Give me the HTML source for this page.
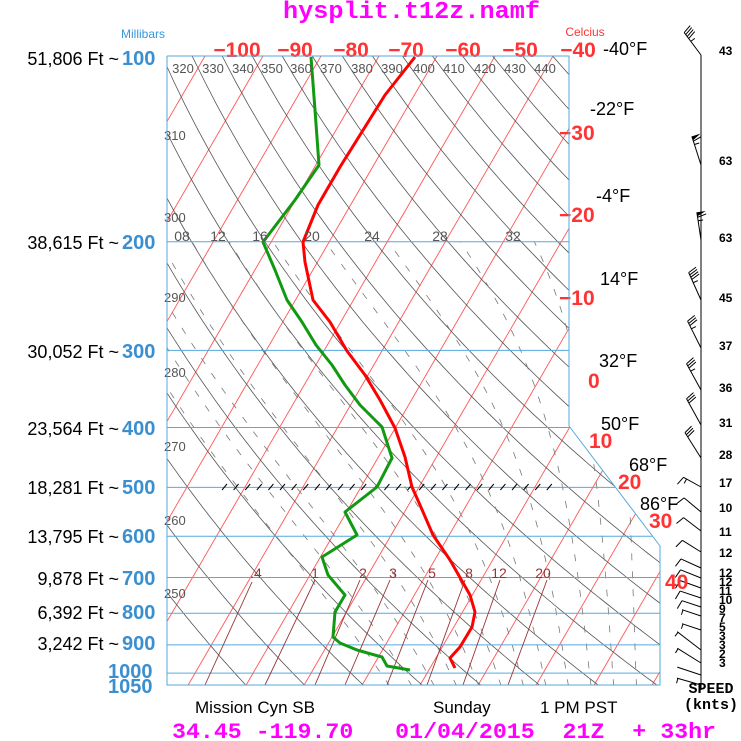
<!DOCTYPE html>
<html><head><meta charset="utf-8">
<style>
html,body{margin:0;padding:0;background:#fff;}
svg{display:block;}
text{font-family:"Liberation Sans",sans-serif;}
.mono{font-family:"Liberation Mono",monospace;}
</style></head>
<body>
<svg id="s" width="741" height="741" viewBox="0 0 741 741" xmlns="http://www.w3.org/2000/svg">
<defs>
<clipPath id="cp"><polygon points="167,56 569,56 569,426 660,546 660,685 167,685"/></clipPath>
</defs>
<g id="grid" clip-path="url(#cp)"></g>
<g id="mr"></g>
<g id="prof"></g>
<g id="barbs"></g>
<g id="txt"></g>
<text x="283" y="18" textLength="257" lengthAdjust="spacingAndGlyphs" class="mono" font-weight="bold" font-size="24" fill="#ff00ff">hysplit.t12z.namf</text>
<text x="143" y="38" text-anchor="middle" font-size="12" fill="#3399dd">Millibars</text>
<text x="585" y="36" text-anchor="middle" font-size="12" fill="#ff3333">Celcius</text>

<g font-size="18" fill="#000" text-anchor="end">
<text x="119" y="65">51,806 Ft ~</text>
<text x="119" y="249">38,615 Ft ~</text>
<text x="119" y="358">30,052 Ft ~</text>
<text x="119" y="435">23,564 Ft ~</text>
<text x="119" y="494">18,281 Ft ~</text>
<text x="119" y="543">13,795 Ft ~</text>
<text x="119" y="585">9,878 Ft ~</text>
<text x="119" y="619">6,392 Ft ~</text>
<text x="119" y="650">3,242 Ft ~</text>
</g>
<g font-size="20" font-weight="bold" fill="#3a8fd0">
<text x="122" y="65">100</text>
<text x="122" y="249">200</text>
<text x="122" y="358">300</text>
<text x="122" y="435">400</text>
<text x="122" y="494">500</text>
<text x="122" y="543">600</text>
<text x="122" y="585">700</text>
<text x="122" y="619">800</text>
<text x="122" y="650">900</text>
<text x="108" y="678">1000</text>
<text x="108" y="693">1050</text>
</g>
<g font-size="21" font-weight="bold" fill="#ff3333" text-anchor="middle">
<text x="237" y="57">−100</text>
<text x="295" y="57">−90</text>
<text x="351" y="57">−80</text>
<text x="406" y="57">−70</text>
<text x="463" y="57">−60</text>
<text x="520" y="57">−50</text>
<text x="578" y="57">−40</text>
</g>
<g font-size="21" font-weight="bold" fill="#ff3333">
<text x="559" y="140">−30</text>
<text x="559" y="222">−20</text>
<text x="559" y="305">−10</text>
<text x="588" y="388">0</text>
<text x="589" y="448">10</text>
<text x="618" y="489">20</text>
<text x="649" y="528">30</text>
<text x="665" y="589">40</text>
</g>
<g font-size="18" fill="#000">
<text x="603" y="55">-40°F</text>
<text x="590" y="115">-22°F</text>
<text x="596" y="202">-4°F</text>
<text x="600" y="285">14°F</text>
<text x="599" y="367">32°F</text>
<text x="601" y="430">50°F</text>
<text x="629" y="471">68°F</text>
<text x="640" y="510">86°F</text>
</g>
<g class="mono" font-size="13" fill="#555">
<text x="183" y="73" text-anchor="middle">320</text>
<text x="213" y="73" text-anchor="middle">330</text>
<text x="243" y="73" text-anchor="middle">340</text>
<text x="272" y="73" text-anchor="middle">350</text>
<text x="301" y="73" text-anchor="middle">360</text>
<text x="331" y="73" text-anchor="middle">370</text>
<text x="362" y="73" text-anchor="middle">380</text>
<text x="392" y="73" text-anchor="middle">390</text>
<text x="424" y="73" text-anchor="middle">400</text>
<text x="454" y="73" text-anchor="middle">410</text>
<text x="485" y="73" text-anchor="middle">420</text>
<text x="515" y="73" text-anchor="middle">430</text>
<text x="545" y="73" text-anchor="middle">440</text>
<text x="164" y="140">310</text>
<text x="164" y="222">300</text>
<text x="164" y="302">290</text>
<text x="164" y="377">280</text>
<text x="164" y="451">270</text>
<text x="164" y="525">260</text>
<text x="164" y="598">250</text>
<text x="182" y="241" text-anchor="middle" font-size="14">08</text>
<text x="218" y="241" text-anchor="middle" font-size="14">12</text>
<text x="260" y="241" text-anchor="middle" font-size="14">16</text>
<text x="312" y="241" text-anchor="middle" font-size="14">20</text>
<text x="372" y="241" text-anchor="middle" font-size="14">24</text>
<text x="440" y="241" text-anchor="middle" font-size="14">28</text>
<text x="513" y="241" text-anchor="middle" font-size="14">32</text>
</g>
<g class="mono" font-size="14" fill="#993333" text-anchor="middle">
<text x="256" y="578">.4</text>
<text x="315" y="578">1</text>
<text x="363" y="578">2</text>
<text x="393" y="578">3</text>
<text x="432" y="578">5</text>
<text x="469" y="578">8</text>
<text x="499" y="578">12</text>
<text x="543" y="578">20</text>
</g>
<g class="mono" font-size="12" font-weight="bold" fill="#000">
<text x="719" y="55">43</text>
<text x="719" y="165">63</text>
<text x="719" y="242">63</text>
<text x="719" y="302">45</text>
<text x="719" y="350">37</text>
<text x="719" y="392">36</text>
<text x="719" y="427">31</text>
<text x="719" y="459">28</text>
<text x="719" y="487">17</text>
<text x="719" y="512">10</text>
<text x="719" y="536">11</text>
<text x="719" y="557">12</text>
<text x="719" y="577">12</text>
<text x="719" y="586">12</text>
<text x="719" y="595">11</text>
<text x="719" y="604">10</text>
<text x="719" y="613">9</text>
<text x="719" y="622">7</text>
<text x="719" y="631">5</text>
<text x="719" y="640">3</text>
<text x="719" y="649">3</text>
<text x="719" y="658">2</text>
<text x="719" y="667">3</text>
</g>
<text x="711" y="693" text-anchor="middle" class="mono" font-weight="bold" font-size="15" fill="#000">SPEED</text>
<text x="711" y="709" text-anchor="middle" class="mono" font-weight="bold" font-size="15" fill="#000">(knts)</text>
<g font-size="17" fill="#000">
<text x="195" y="713">Mission Cyn SB</text>
<text x="433" y="713">Sunday</text>
<text x="540" y="713">1 PM PST</text>
</g>
<text x="172" y="738" textLength="544" lengthAdjust="spacingAndGlyphs" class="mono" font-weight="bold" font-size="22" fill="#ff00ff" xml:space="preserve">34.45 -119.70   01/04/2015  21Z  + 33hr</text>
</svg>
<script>
(function(){
var NS="http://www.w3.org/2000/svg";
function el(parent,tag,attrs){var e=document.createElementNS(NS,tag);for(var k in attrs)e.setAttribute(k,attrs[k]);parent.appendChild(e);return e;}
function py(p){return 56+268*Math.log(p/100);}
function tx(T,y){return 553+(T+40)*5.8-(y-56)*0.58;}
var g=document.getElementById('grid');
for(var T=-140;T<=60;T+=10){
  el(g,'line',{x1:tx(T,56),y1:56,x2:tx(T,685),y2:685,stroke:'#ff5555','stroke-width':0.9});
}
for(var th=240;th<=460;th+=10){
  var pts=[];
  for(var p=90;p<=1060;p+=10){var y=py(p);var Tc=th*Math.pow(p/1000,0.2857)-273.15;pts.push(tx(Tc,y).toFixed(1)+','+y.toFixed(1));}
  el(g,'polyline',{points:pts.join(' '),fill:'none',stroke:'#555','stroke-width':0.8});
}
function es(Tc){return 6.112*Math.exp(17.67*Tc/(Tc+243.5));}
function step(Tk,p,dp){var e=es(Tk-273.15);var rs=0.622*e/(p-e);var Rd=287,L=2.5e6,cp=1004;
  var dTdp=(Rd*Tk+L*rs)/p/(cp+L*L*rs*0.622/(Rd*Tk*Tk));return Tk+dTdp*dp;}
for(var tw=-8;tw<=36;tw+=4){
  var Tk=tw+273.15,arr=[],pts=[];
  arr.push([1050,step(Tk,1000,50)]);
  var t=Tk;
  for(var p=1000;p>=200;p-=5){arr.push([p,t]);t=step(t,p,-5);}
  for(var i=0;i<arr.length;i++){var y=py(arr[i][0]);pts.push(tx(arr[i][1]-273.15,y).toFixed(1)+','+y.toFixed(1));}
  el(g,'polyline',{points:pts.join(' '),fill:'none',stroke:'#777','stroke-width':0.8,'stroke-dasharray':'7,11'});
}
[100,200,300,400,500,600,700,800,900,1000,1050].forEach(function(p){var y=py(p);
  el(g,'line',{x1:167,y1:y,x2:700,y2:y,stroke:'#55aadd','stroke-width':1});});
var s=document.getElementById('s');
el(s,'polyline',{points:'167,56 569,56 569,426 660,546 660,685 167,685 167,56',fill:'none',stroke:'#55aadd','stroke-width':1});
var h=document.getElementById('mr');
for(var x=222;x<=555;x+=11.6){el(h,'line',{x1:x,y1:490,x2:x+5,y2:484,stroke:'#000','stroke-width':1});}
[[252,582,205,685],[315,580,265,685],[360,580,315,685],[390,580,345,685],[428,580,387,685],[465,580,427,685],[500,580,463,685],[547,580,508,685]].forEach(function(a){
  el(h,'line',{x1:a[0],y1:a[1],x2:a[2],y2:a[3],stroke:'#993333','stroke-width':0.9});});
var pr=document.getElementById('prof');
var temp=[[415,57],[385,95],[340,167],[318,205],[303,242],[305,262],[313,300],[330,322],[347,351],[365,375],[380,400],[395,428],[405,457],[412,487],[420,505],[433,535],[450,560],[470,595],[475,612],[472,627],[460,647],[450,658],[455,668]];
var dew=[[311,57],[315,110],[319,165],[295,200],[263,242],[275,270],[287,300],[302,322],[316,345],[332,365],[345,385],[360,405],[375,420],[382,427],[392,458],[377,487],[345,512],[357,535],[322,557],[328,575],[345,595],[335,612],[333,637],[340,643],[357,650],[382,657],[387,666],[410,670]];
function pl(a,c){el(pr,'polyline',{points:a.map(function(q){return q.join(',');}).join(' '),fill:'none',stroke:c,'stroke-width':3,'stroke-linejoin':'round'});}
pl(dew,'#119911');pl(temp,'#ff0000');
var b=document.getElementById('barbs');
el(b,'line',{x1:701,y1:55,x2:701,y2:690,stroke:'#000','stroke-width':1});
var winds=[[55,43,-0.75,28],[165,63,-0.32,30],[240,63,-0.15,28],[300,45,-0.45,30],[348,37,-0.5,30],[390,36,-0.55,30],[425,31,-0.55,30],[458,28,-0.63,30],[487,17,-1.8,20],[512,10,-1.2,22],[531,11,-1.3,22],[552,12,-1.6,22],[568,12,-2.2,22],[578,12,-2.5,22],[588,11,-2.8,22],[598,10,-3,22],[607,9,-3,20],[616,7,-3,20],[630,5,-3,20],[650,3,-1.3,30],[663,3,-1.6,28],[675,2,-3,25],[685,3,-3.5,25]];
winds.forEach(function(w){
  var y=w[0],spd=w[1],sl=w[2],L=w[3];
  var dx=sl,dy=-1;var n=Math.sqrt(dx*dx+dy*dy);dx/=n;dy/=n;
  var x2=701+dx*L,y2=y+dy*L;
  el(b,'line',{x1:701,y1:y,x2:x2,y2:y2,stroke:'#000','stroke-width':1});
  var px=-dy,py2=dx; // up-right side
  if(sl<-1.1){px=dy;py2=-dx;} // downward side for flat barbs
  var pos=0,s2=spd,fl=9;
  function pt(t){return [x2-dx*t,y2-dy*t];}
  while(s2>=48){var a=pt(pos),c=pt(pos+4);el(b,'polygon',{points:a[0]+','+a[1]+' '+(a[0]+px*fl)+','+(a[1]+py2*fl)+' '+c[0]+','+c[1],fill:'#000'});pos+=5;s2-=50;}
  while(s2>=8){var a=pt(pos);el(b,'line',{x1:a[0],y1:a[1],x2:a[0]+px*fl+dx*2,y2:a[1]+py2*fl+dy*2,stroke:'#000','stroke-width':1});pos+=2.5;s2-=10;}
  if(s2>=3){var a=pt(pos+1);el(b,'line',{x1:a[0],y1:a[1],x2:a[0]+px*5,y2:a[1]+py2*5,stroke:'#000','stroke-width':1});}
});
})();
</script>
</body></html>
